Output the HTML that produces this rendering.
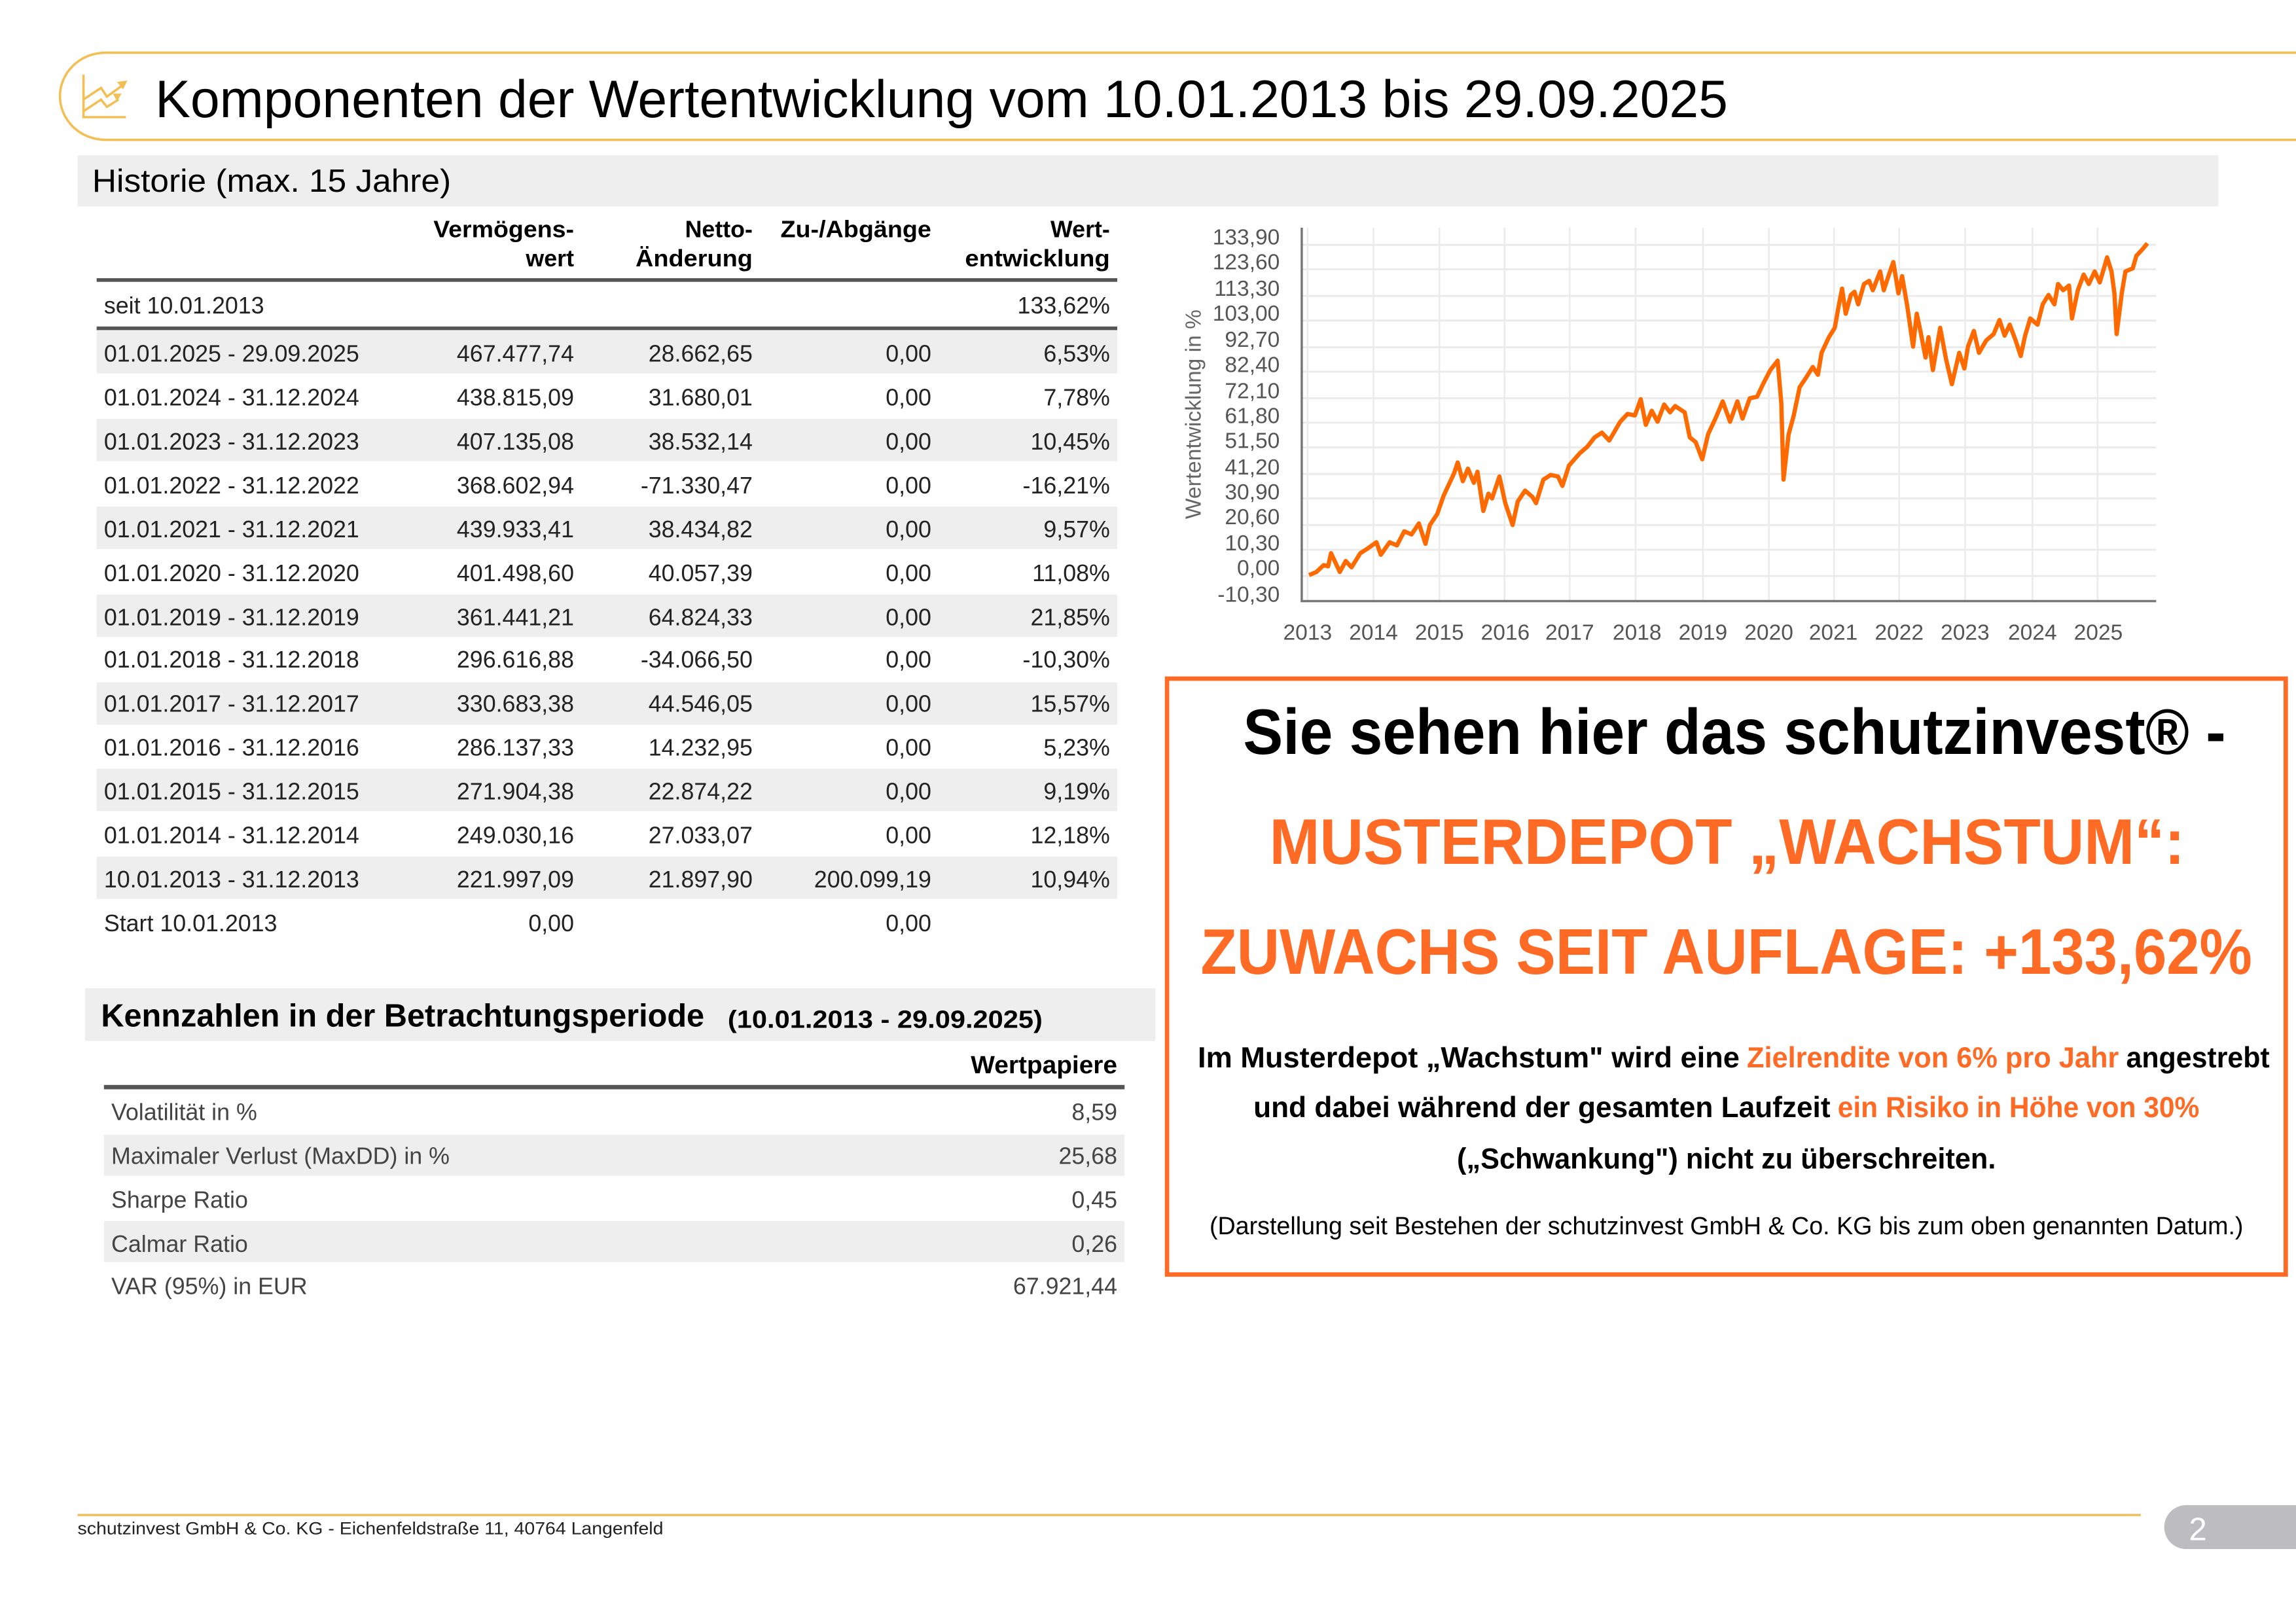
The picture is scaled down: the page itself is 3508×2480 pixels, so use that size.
<!DOCTYPE html>
<html><head><meta charset="utf-8"><style>
html,body{margin:0;padding:0;background:#fff;}
svg{display:block;}
text{font-family:"Liberation Sans",sans-serif;}
</style></head><body>
<svg width="3508" height="2480" viewBox="0 0 1568 1108.5" preserveAspectRatio="none" xmlns="http://www.w3.org/2000/svg">
<rect width="1568" height="1108.5" fill="#fff"/>
<path d="M1568,36 H72 A31,29.7 0 0 0 72,95.5 H1568" fill="none" stroke="#f3bf55" stroke-width="1.6"/>
<g stroke="#f3bf55" stroke-width="1.6" fill="none">
<path d="M57,51 V80 H86"/>
<path d="M57,68 L69,60 L73,66 L84,58"/>
<path d="M57,76 L69,68 L73,73 L81,68"/>
</g>
<path d="M87,55 L80,56 L84,61 Z M83,64 L77,64 L80,69 Z" fill="#f3bf55"/>
<text x="106" y="80" font-size="36" fill="#000" textLength="1074" lengthAdjust="spacingAndGlyphs">Komponenten der Wertentwicklung vom 10.01.2013 bis 29.09.2025</text>

<rect x="53" y="106" width="1462" height="35" fill="#eeeeee"/>
<text x="63" y="131" font-size="22" fill="#000" textLength="245" lengthAdjust="spacingAndGlyphs">Historie (max. 15 Jahre)</text>
<g font-size="16" font-weight="bold" fill="#000" text-anchor="end">
<text x="392" y="162" textLength="96" lengthAdjust="spacingAndGlyphs">Vermögens-</text>
<text x="392" y="182">wert</text>
<text x="514" y="162">Netto-</text>
<text x="514" y="182" textLength="80" lengthAdjust="spacingAndGlyphs">Änderung</text>
<text x="636" y="162" textLength="103" lengthAdjust="spacingAndGlyphs">Zu-/Abgänge</text>
<text x="758" y="162">Wert-</text>
<text x="758" y="182" textLength="99" lengthAdjust="spacingAndGlyphs">entwicklung</text>
</g>
<rect x="66" y="190" width="697" height="2.5" fill="#555"/>
<text x="71" y="214" font-size="16" fill="#222">seit 10.01.2013</text>
<text x="758" y="214" font-size="16" fill="#222" text-anchor="end">133,62%</text>
<rect x="66" y="223" width="697" height="2.5" fill="#555"/>
<g fill="#eeeeee">
<rect x="66" y="226" width="697" height="29"/>
<rect x="66" y="286" width="697" height="29"/>
<rect x="66" y="346" width="697" height="29"/>
<rect x="66" y="406" width="697" height="29"/>
<rect x="66" y="466" width="697" height="29"/>
<rect x="66" y="525" width="697" height="29"/>
<rect x="66" y="585" width="697" height="29"/>
</g>
<g font-size="16" fill="#222">
<text x="71" y="247">01.01.2025 - 29.09.2025</text>
<text x="71" y="277">01.01.2024 - 31.12.2024</text>
<text x="71" y="307">01.01.2023 - 31.12.2023</text>
<text x="71" y="337">01.01.2022 - 31.12.2022</text>
<text x="71" y="367">01.01.2021 - 31.12.2021</text>
<text x="71" y="397">01.01.2020 - 31.12.2020</text>
<text x="71" y="427">01.01.2019 - 31.12.2019</text>
<text x="71" y="456">01.01.2018 - 31.12.2018</text>
<text x="71" y="486">01.01.2017 - 31.12.2017</text>
<text x="71" y="516">01.01.2016 - 31.12.2016</text>
<text x="71" y="546">01.01.2015 - 31.12.2015</text>
<text x="71" y="576">01.01.2014 - 31.12.2014</text>
<text x="71" y="606">10.01.2013 - 31.12.2013</text>
<text x="71" y="636">Start 10.01.2013</text>
</g>
<g font-size="16" fill="#222" text-anchor="end">
<text x="392" y="247">467.477,74</text><text x="514" y="247">28.662,65</text><text x="636" y="247">0,00</text><text x="758" y="247">6,53%</text>
<text x="392" y="277">438.815,09</text><text x="514" y="277">31.680,01</text><text x="636" y="277">0,00</text><text x="758" y="277">7,78%</text>
<text x="392" y="307">407.135,08</text><text x="514" y="307">38.532,14</text><text x="636" y="307">0,00</text><text x="758" y="307">10,45%</text>
<text x="392" y="337">368.602,94</text><text x="514" y="337">-71.330,47</text><text x="636" y="337">0,00</text><text x="758" y="337">-16,21%</text>
<text x="392" y="367">439.933,41</text><text x="514" y="367">38.434,82</text><text x="636" y="367">0,00</text><text x="758" y="367">9,57%</text>
<text x="392" y="397">401.498,60</text><text x="514" y="397">40.057,39</text><text x="636" y="397">0,00</text><text x="758" y="397">11,08%</text>
<text x="392" y="427">361.441,21</text><text x="514" y="427">64.824,33</text><text x="636" y="427">0,00</text><text x="758" y="427">21,85%</text>
<text x="392" y="456">296.616,88</text><text x="514" y="456">-34.066,50</text><text x="636" y="456">0,00</text><text x="758" y="456">-10,30%</text>
<text x="392" y="486">330.683,38</text><text x="514" y="486">44.546,05</text><text x="636" y="486">0,00</text><text x="758" y="486">15,57%</text>
<text x="392" y="516">286.137,33</text><text x="514" y="516">14.232,95</text><text x="636" y="516">0,00</text><text x="758" y="516">5,23%</text>
<text x="392" y="546">271.904,38</text><text x="514" y="546">22.874,22</text><text x="636" y="546">0,00</text><text x="758" y="546">9,19%</text>
<text x="392" y="576">249.030,16</text><text x="514" y="576">27.033,07</text><text x="636" y="576">0,00</text><text x="758" y="576">12,18%</text>
<text x="392" y="606">221.997,09</text><text x="514" y="606">21.897,90</text><text x="636" y="606">200.099,19</text><text x="758" y="606">10,94%</text>
<text x="392" y="636">0,00</text><text x="636" y="636">0,00</text>
</g>

<rect x="58" y="675" width="731" height="36" fill="#eeeeee"/>
<text x="69" y="701" font-size="22" font-weight="bold" fill="#000" textLength="412" lengthAdjust="spacingAndGlyphs">Kennzahlen in der Betrachtungsperiode</text>
<text x="497" y="702" font-size="17" font-weight="bold" fill="#000" textLength="215" lengthAdjust="spacingAndGlyphs">(10.01.2013 - 29.09.2025)</text>
<text x="763" y="733" font-size="17" font-weight="bold" fill="#000" text-anchor="end" textLength="100" lengthAdjust="spacingAndGlyphs">Wertpapiere</text>
<rect x="71" y="741" width="697" height="3" fill="#555"/>
<rect x="71" y="775" width="697" height="28" fill="#eeeeee"/>
<rect x="71" y="834" width="697" height="28" fill="#eeeeee"/>
<g font-size="16" fill="#444">
<text x="76" y="765">Volatilität in %</text>
<text x="76" y="795">Maximaler Verlust (MaxDD) in %</text>
<text x="76" y="825">Sharpe Ratio</text>
<text x="76" y="855">Calmar Ratio</text>
<text x="76" y="884">VAR (95%) in EUR</text>
</g>
<g font-size="16" fill="#444" text-anchor="end">
<text x="763" y="765">8,59</text><text x="763" y="795">25,68</text><text x="763" y="825">0,45</text><text x="763" y="855">0,26</text><text x="763" y="884">67.921,44</text>
</g>

<g transform="translate(784,134.1) scale(0.5,0.2138)">
<g stroke="#ebebeb" fill="none">
<path vector-effect="non-scaling-stroke" stroke-width="3" d="M210,155H1377M210,233H1377M210,318H1377M210,397H1377M210,482H1377M210,560H1377M210,645H1377M210,723H1377M210,802H1377M210,887H1377M210,965H1377M210,1050H1377M210,1129H1377M210,1213H1377"/>
<path vector-effect="non-scaling-stroke" stroke-width="2.5" d="M218,100V1293M308,100V1293M398,100V1293M487,100V1293M576,100V1293M666,100V1293M758,100V1293M848,100V1293M937,100V1293M1026,100V1293M1116,100V1293M1208,100V1293M1297,100V1293"/>
</g>
<path vector-effect="non-scaling-stroke" d="M210,100V1293H1377" fill="none" stroke="#777" stroke-width="3.5"/>
<polyline vector-effect="non-scaling-stroke" fill="none" stroke="#ff6a00" stroke-width="6.5" stroke-linejoin="round" points="220,1210 230,1200 240,1178 246,1182 250,1140 262,1200 270,1165 278,1185 290,1140 300,1125 312,1105 318,1145 330,1105 340,1115 350,1070 360,1080 370,1045 379,1110 385,1050 395,1015 404,955 418,885 423,850 430,910 437,870 445,915 450,880 458,1005 465,950 470,965 480,895 488,980 498,1050 505,975 515,940 525,960 530,980 540,905 550,890 560,895 566,925 575,860 590,820 600,800 610,770 620,755 630,780 645,720 655,695 665,700 673,648 680,730 688,685 696,720 705,665 713,690 720,670 733,690 740,770 748,785 757,840 765,760 775,710 785,655 795,720 805,655 812,710 822,645 832,640 840,600 850,555 860,525 865,660 868,905 875,760 882,700 890,610 900,575 908,545 915,570 920,500 930,450 938,420 943,355 948,295 953,375 960,315 965,305 970,345 978,280 985,270 990,300 1000,240 1005,300 1012,250 1018,210 1025,310 1030,255 1037,350 1045,480 1050,375 1055,430 1062,515 1066,450 1072,555 1082,420 1090,520 1098,600 1108,500 1115,550 1120,480 1128,430 1135,500 1145,460 1155,440 1163,395 1170,445 1177,410 1185,460 1192,510 1198,445 1205,390 1215,410 1222,345 1230,315 1238,345 1243,280 1250,300 1258,285 1262,390 1270,300 1278,250 1285,280 1293,240 1300,275 1310,195 1316,240 1320,310 1323,440 1330,310 1335,240 1345,230 1350,190 1358,170 1365,150"/>
</g>
<g font-size="15" fill="#555" text-anchor="end">
<text x="874" y="167">133,90</text><text x="874" y="184">123,60</text><text x="874" y="202">113,30</text><text x="874" y="219">103,00</text><text x="874" y="237">92,70</text><text x="874" y="254">82,40</text><text x="874" y="272">72,10</text><text x="874" y="289">61,80</text><text x="874" y="306">51,50</text><text x="874" y="324">41,20</text><text x="874" y="341">30,90</text><text x="874" y="358">20,60</text><text x="874" y="376">10,30</text><text x="874" y="393">0,00</text><text x="874" y="411">-10,30</text>
</g>
<g font-size="15" fill="#555" text-anchor="middle">
<text x="893" y="437">2013</text><text x="938" y="437">2014</text><text x="983" y="437">2015</text><text x="1028" y="437">2016</text><text x="1072" y="437">2017</text><text x="1118" y="437">2018</text><text x="1163" y="437">2019</text><text x="1208" y="437">2020</text><text x="1252" y="437">2021</text><text x="1297" y="437">2022</text><text x="1342" y="437">2023</text><text x="1388" y="437">2024</text><text x="1433" y="437">2025</text>
</g>
<text transform="translate(820,283) rotate(-90)" font-size="15" fill="#666" text-anchor="middle">Wertentwicklung in %</text>

<rect x="797" y="463.5" width="764" height="407" fill="none" stroke="#ff6a24" stroke-width="3"/>
<text x="849" y="515" font-size="44" font-weight="bold" fill="#000" textLength="671" lengthAdjust="spacingAndGlyphs">Sie sehen hier das schutzinvest® -</text>
<text x="867" y="590" font-size="44" font-weight="bold" fill="#ff6a24" textLength="625" lengthAdjust="spacingAndGlyphs">MUSTERDEPOT „WACHSTUM“:</text>
<text x="820" y="665" font-size="44" font-weight="bold" fill="#ff6a24" textLength="718" lengthAdjust="spacingAndGlyphs">ZUWACHS SEIT AUFLAGE: +133,62%</text>
<g font-size="20" font-weight="bold">
<text x="818" y="729" fill="#000" textLength="370" lengthAdjust="spacingAndGlyphs">Im Musterdepot „Wachstum" wird eine</text>
<text x="1193" y="729" fill="#ff6a24" textLength="254" lengthAdjust="spacingAndGlyphs">Zielrendite von 6% pro Jahr</text>
<text x="1452" y="729" fill="#000" textLength="98" lengthAdjust="spacingAndGlyphs">angestrebt</text>
<text x="856" y="763" fill="#000" textLength="394" lengthAdjust="spacingAndGlyphs">und dabei während der gesamten Laufzeit</text>
<text x="1255" y="763" fill="#ff6a24" textLength="247" lengthAdjust="spacingAndGlyphs">ein Risiko in Höhe von 30%</text>
<text x="995" y="798" fill="#000" textLength="368" lengthAdjust="spacingAndGlyphs">(„Schwankung") nicht zu überschreiten.</text>
</g>
<text x="826" y="843" font-size="17" fill="#000" textLength="706" lengthAdjust="spacingAndGlyphs">(Darstellung seit Bestehen der schutzinvest GmbH &amp; Co. KG bis zum oben genannten Datum.)</text>

<rect x="53" y="1034" width="1409" height="1.5" fill="#f0bd55"/>
<text x="53" y="1048" font-size="12" fill="#222" textLength="400" lengthAdjust="spacingAndGlyphs">schutzinvest GmbH &amp; Co. KG - Eichenfeldstraße 11, 40764 Langenfeld</text>
<rect x="1478" y="1028" width="110" height="30" rx="15" fill="#bdbdbf"/>
<text x="1501" y="1052" font-size="22" fill="#fff" text-anchor="middle">2</text>
</svg>
</body></html>
